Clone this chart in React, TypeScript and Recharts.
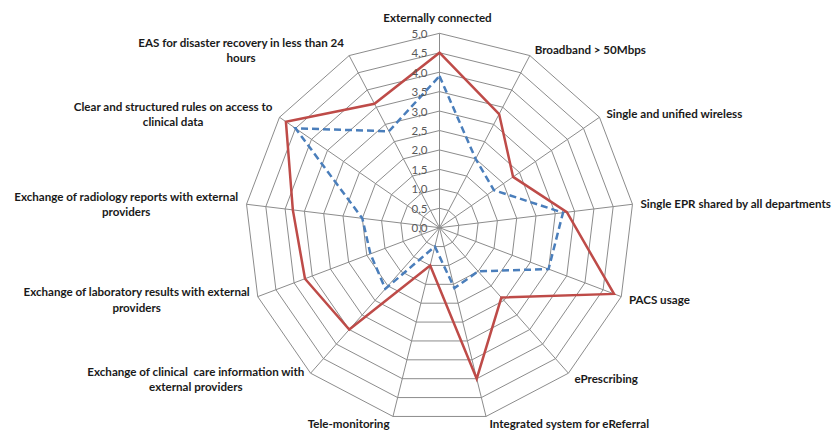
import { PolarAngleAxis, PolarGrid, PolarRadiusAxis, Radar, RadarChart } from "recharts";

// categories (clockwise from top), "\n" marks where the label wraps
const categories = [
  "Externally connected",
  "Broadband > 50Mbps",
  "Single and unified wireless",
  "Single EPR shared by all departments",
  "PACS usage",
  "ePrescribing",
  "Integrated system for eReferral",
  "Tele-monitoring",
  "Exchange of clinical  care information with\nexternal providers",
  "Exchange of laboratory results with external\nproviders",
  "Exchange of radiology reports with external\nproviders",
  "Clear and structured rules on access to\nclinical data",
  "EAS for disaster recovery in less than 24\nhours",
];

const redValues = [4.5, 3.3, 2.3, 3.3, 4.8, 2.4, 4.0, 1.0, 3.5, 3.7, 3.8, 4.8, 3.6];
const blueValues = [3.9, 2.0, 1.7, 3.2, 3.0, 1.5, 1.6, 0.5, 2.1, 1.9, 2.0, 4.5, 2.8];

const radiusTicks = [0, 0.5, 1, 1.5, 2, 2.5, 3, 3.5, 4, 4.5, 5];

const W = 834;
const H = 432;
const CX = 439.5;
const CY = 227.7;
const R = 194.4;
const LABEL_SIZE = 11.6;
const LABEL_FONT = `bold ${LABEL_SIZE}px Lato`;

const data = categories.map((name, i) => ({
  name,
  red: redValues[i],
  blue: blueValues[i],
}));

let ctx: CanvasRenderingContext2D | null = null;
const measure = (s: string) => {
  if (!ctx) ctx = document.createElement("canvas").getContext("2d");
  if (!ctx) return s.length * 6;
  ctx.font = LABEL_FONT;
  return ctx.measureText(s).width;
};

const AngleTick = (props: any) => {
  const { payload, index } = props;
  const ang = (90 - (index * 360) / categories.length) * (Math.PI / 180);
  const ux = Math.cos(ang);
  const uy = -Math.sin(ang);
  const px = CX + R * ux;
  const py = CY + R * uy;
  const lines = String(payload.value).split("\n");
  const lh = 15.5;
  const common = {
    fontFamily: "Lato",
    fontSize: LABEL_SIZE,
    fontWeight: 700,
    fill: "#1a1a1a",
    dominantBaseline: "central" as const,
    style: { whiteSpace: "pre" as const },
  };

  if (Math.abs(ux) < 0.01) {
    return (
      <text x={px - 2} y={py - 16} textAnchor="middle" {...common}>
        {lines[0]}
      </text>
    );
  }

  const cy0 = py + 7 * uy - ((lines.length - 1) * lh) / 2;
  if (ux > 0) {
    return (
      <text x={px + 2 + 6 * ux} y={cy0} textAnchor="start" {...common}>
        {lines.map((l, i) => (
          <tspan key={i} x={px + 2 + 6 * ux} y={cy0 + i * lh}>
            {l}
          </tspan>
        ))}
      </text>
    );
  }

  const right = px - 2 - 6 * Math.abs(ux);
  const maxW = Math.max(...lines.map(measure));
  const mid = lines.length > 1 ? right - maxW / 2 : right;
  return (
    <text x={mid} y={cy0} textAnchor={lines.length > 1 ? "middle" : "end"} {...common}>
      {lines.map((l, i) => (
        <tspan key={i} x={mid} y={cy0 + i * lh}>
          {l}
        </tspan>
      ))}
    </text>
  );
};

const RadiusTick = (props: any) => {
  const { x, y, payload } = props;
  return (
    <text
      x={x - 12}
      y={y}
      textAnchor="end"
      dominantBaseline="central"
      fontFamily="Lato"
      fontSize={11.5}
      fill="#595959"
    >
      {Number(payload.value).toFixed(1).replace(".", ",")}
    </text>
  );
};

export default function App() {
  return (
    <div style={{ position: "absolute", left: 0, top: 0, width: W, height: H, background: "#fff" }}>
      <RadarChart width={W} height={H} data={data} cx={CX} cy={CY} outerRadius={R} margin={{ top: 0, right: 0, bottom: 0, left: 0 }}>
        <PolarGrid
          gridType="polygon"
          polarRadius={radiusTicks.slice(1).map((t) => (t / 5) * R)}
          stroke="#8c8c8c"
          strokeWidth={1}
        />
        <PolarAngleAxis dataKey="name" tick={<AngleTick />} tickLine={false} axisLine={false} />
        <PolarRadiusAxis
          angle={90}
          domain={[0, 5]}
          ticks={radiusTicks as any}
          tick={<RadiusTick />}
          axisLine={false}
          tickLine={false}
        />
        <Radar
          dataKey="blue"
          stroke="#4a7ebb"
          strokeWidth={2.5}
          strokeDasharray="7 4"
          fill="none"
          fillOpacity={0}
          dot={false}
          isAnimationActive={false}
        />
        <Radar
          dataKey="red"
          stroke="#be4b48"
          strokeWidth={2.5}
          fill="none"
          fillOpacity={0}
          dot={false}
          isAnimationActive={false}
        />
      </RadarChart>
    </div>
  );
}
